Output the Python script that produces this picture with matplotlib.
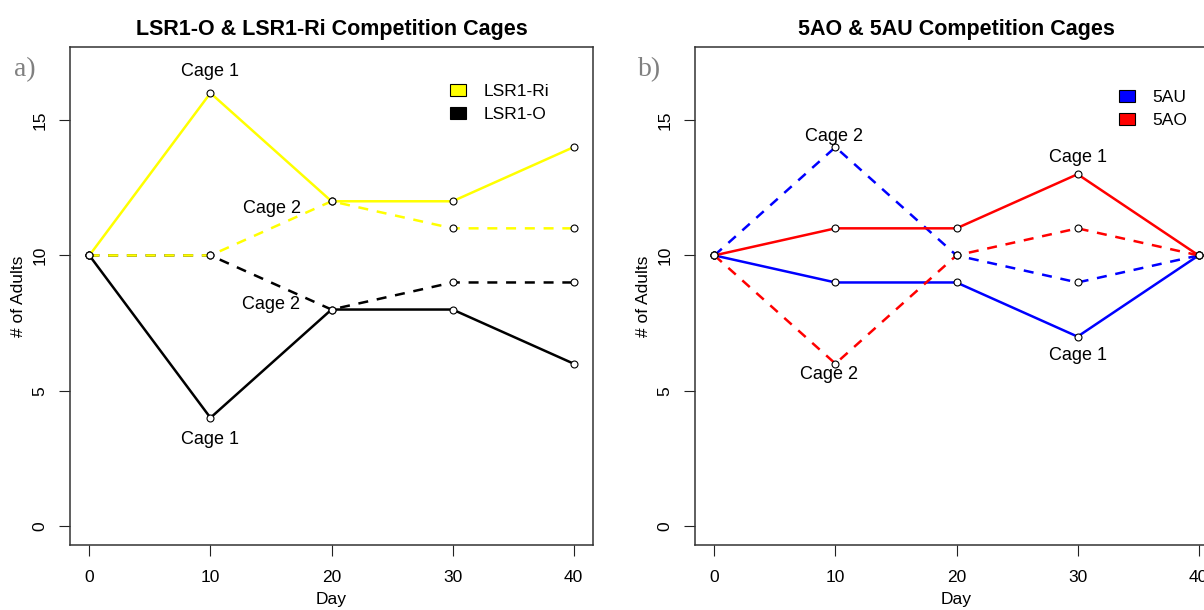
import matplotlib
matplotlib.use("Agg")
import matplotlib.pyplot as plt
from matplotlib.patches import Patch

plt.rcParams['font.family'] = ['Liberation Sans', 'DejaVu Sans']

days = [0, 10, 20, 30, 40]

# LSR1 cages
lsr1_ri_cage1 = [10, 16, 12, 12, 14]
lsr1_ri_cage2 = [10, 10, 12, 11, 11]
lsr1_o_cage1 = [10, 4, 8, 8, 6]
lsr1_o_cage2 = [10, 10, 8, 9, 9]

# 5A cages
au_cage1 = [10, 9, 9, 7, 10]
au_cage2 = [10, 14, 10, 9, 10]
ao_cage1 = [10, 11, 11, 13, 10]
ao_cage2 = [10, 6, 10, 11, 10]

yticks = [0, 5, 10, 15]
xticks = [0, 10, 20, 30, 40]

W, H = 1204, 610
fig = plt.figure(figsize=(W / 100, H / 100), dpi=100)


def px_axes(left, top, right, bottom):
    return fig.add_axes([left / W, 1 - bottom / H, (right - left) / W, (bottom - top) / H])


def series(ax, y, color, dashed):
    ls = (0, (4, 3.5)) if dashed else '-'
    ax.plot(days, y, color=color, lw=1.8, ls=ls, marker='o', ms=5,
            mfc='white', mec='black', mew=0.8)


def style(ax, title):
    ax.set_xlim(-1.6, 41.6)
    ax.set_ylim(-0.7, 17.7)
    ax.set_xticks(xticks)
    ax.set_yticks(yticks)
    ax.tick_params(direction='out', length=8, width=0.8, labelsize=12.5,
                   color='#222222')
    ax.tick_params(axis='x', pad=10)
    ax.tick_params(axis='y', pad=8, labelrotation=90)
    for lab in ax.get_yticklabels():
        lab.set_va('center')
    for s in ax.spines.values():
        s.set_color('#333333')
        s.set_linewidth(1.1)
    ax.set_title(title, fontsize=15.5, fontweight='bold', pad=9)
    ax.set_xlabel('Day', fontsize=12.5)
    ax.set_ylabel('# of Adults', fontsize=12.5)
    ax.xaxis.set_label_coords(0.5, -0.094)
    ax.xaxis.label.set_va('top')
    ax.yaxis.set_label_coords(-0.0994, 0.5)
    ax.yaxis.label.set_va('center')


def legend(ax, items, anchor):
    ax.legend(handles=[Patch(fc=c, ec='black', lw=0.8, label=s) for c, s in items],
              loc='upper left', bbox_to_anchor=anchor, frameon=False,
              borderaxespad=0, borderpad=0, fontsize=12.5, handlelength=0.9,
              handleheight=0.7, handletextpad=1.0, labelspacing=0.45)


# panel a
ax1 = px_axes(70, 47, 593, 545)
series(ax1, lsr1_o_cage2, 'black', True)
series(ax1, lsr1_o_cage1, 'black', False)
series(ax1, lsr1_ri_cage2, '#FFFF00', True)
series(ax1, lsr1_ri_cage1, '#FFFF00', False)
style(ax1, 'LSR1-O & LSR1-Ri Competition Cages')
for x, y, s in [(10, 16.8, 'Cage 1'), (10, 3.2, 'Cage 1'),
                (15.1, 11.75, 'Cage 2'), (15.0, 8.2, 'Cage 2')]:
    ax1.text(x, y, s, ha='center', va='center', fontsize=13)
legend(ax1, [('#FFFF00', 'LSR1-Ri'), ('black', 'LSR1-O')], (0.727, 0.926))

# panel b
ax2 = px_axes(695, 47, 1218, 545)
series(ax2, au_cage1, 'blue', False)
series(ax2, au_cage2, 'blue', True)
series(ax2, ao_cage1, 'red', False)
series(ax2, ao_cage2, 'red', True)
style(ax2, '5AO & 5AU Competition Cages')
for x, y, s in [(9.9, 14.4, 'Cage 2'), (30, 13.6, 'Cage 1'),
                (30, 6.3, 'Cage 1'), (9.5, 5.6, 'Cage 2')]:
    ax2.text(x, y, s, ha='center', va='center', fontsize=13)
legend(ax2, [('blue', '5AU'), ('red', '5AO')], (0.811, 0.914))

for x, s in [(14, 'a)'), (638, 'b)')]:
    fig.text(x / W, 1 - 70 / H, s, ha='left', va='center', fontsize=20,
             family='Liberation Serif', color='#808080')

fig.savefig('out.png', dpi=100)
